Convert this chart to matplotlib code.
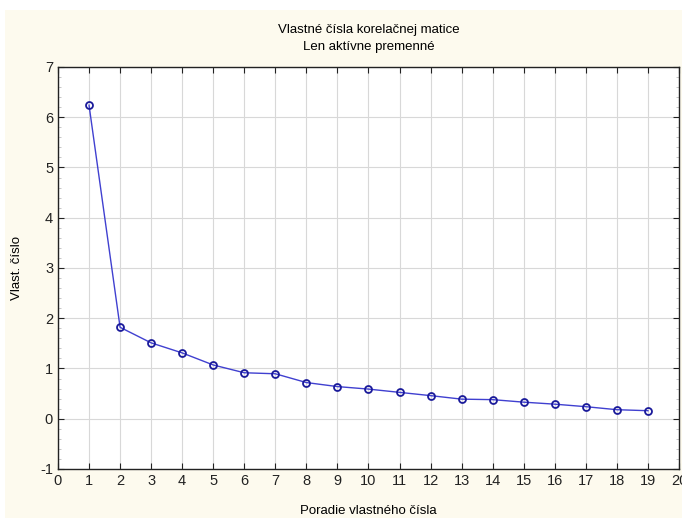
import matplotlib
matplotlib.use("Agg")
from matplotlib import pyplot as plt
from matplotlib.patches import Rectangle
from matplotlib.ticker import MultipleLocator

# eigenvalue order and values
order = list(range(1, 20))
eigenvalues = [6.24, 1.82, 1.51, 1.31, 1.07, 0.915, 0.895, 0.72, 0.64, 0.59,
               0.525, 0.46, 0.39, 0.38, 0.33, 0.29, 0.24, 0.18, 0.16]

title = "Vlastné čísla korelačnej matice\nLen aktívne premenné"
xlabel = "Poradie vlastného čísla"
ylabel = "Vlast. číslo"

plt.rcParams['font.family'] = ['Liberation Sans', 'DejaVu Sans']
plt.rcParams['axes.unicode_minus'] = False

fig = plt.figure(figsize=(6.82, 5.18), dpi=100, facecolor='white')
fig.patches.append(Rectangle((5 / 682, 0), 1, 1 - 10 / 518, transform=fig.transFigure,
                             facecolor='#fdfaee', edgecolor='none', zorder=-1))
ax = fig.add_axes([0.085, 0.0946, 0.9106, 0.7761])
ax.set_facecolor('white')

ax.plot(order, eigenvalues, color='#4040d0', lw=1.0, marker='o', ms=5,
        markerfacecolor='none', markeredgecolor='#1a1a9a', markeredgewidth=1.3)

ax.set_xlim(0, 20)
ax.set_ylim(-1, 7)
ax.xaxis.set_major_locator(MultipleLocator(1))
ax.yaxis.set_major_locator(MultipleLocator(1))
ax.yaxis.set_minor_locator(MultipleLocator(0.2))
ax.grid(True, which='major', color='#d8d8d8', lw=0.8)
ax.set_axisbelow(True)
ax.tick_params(which='both', direction='in', top=True, right=True,
               labelsize=10.5, colors='#222222', length=4)
ax.tick_params(which='minor', length=2, color='#bbbbbb')
for s in ax.spines.values():
    s.set_color('#222222')
    s.set_linewidth(1.0)

ax.set_title(title, fontsize=9.5, linespacing=1.6, pad=12)
ax.set_xlabel(xlabel, fontsize=9.5, labelpad=12)
ax.set_ylabel(ylabel, fontsize=9.5, labelpad=12)

fig.savefig('out.png', dpi=100, facecolor=fig.get_facecolor())
